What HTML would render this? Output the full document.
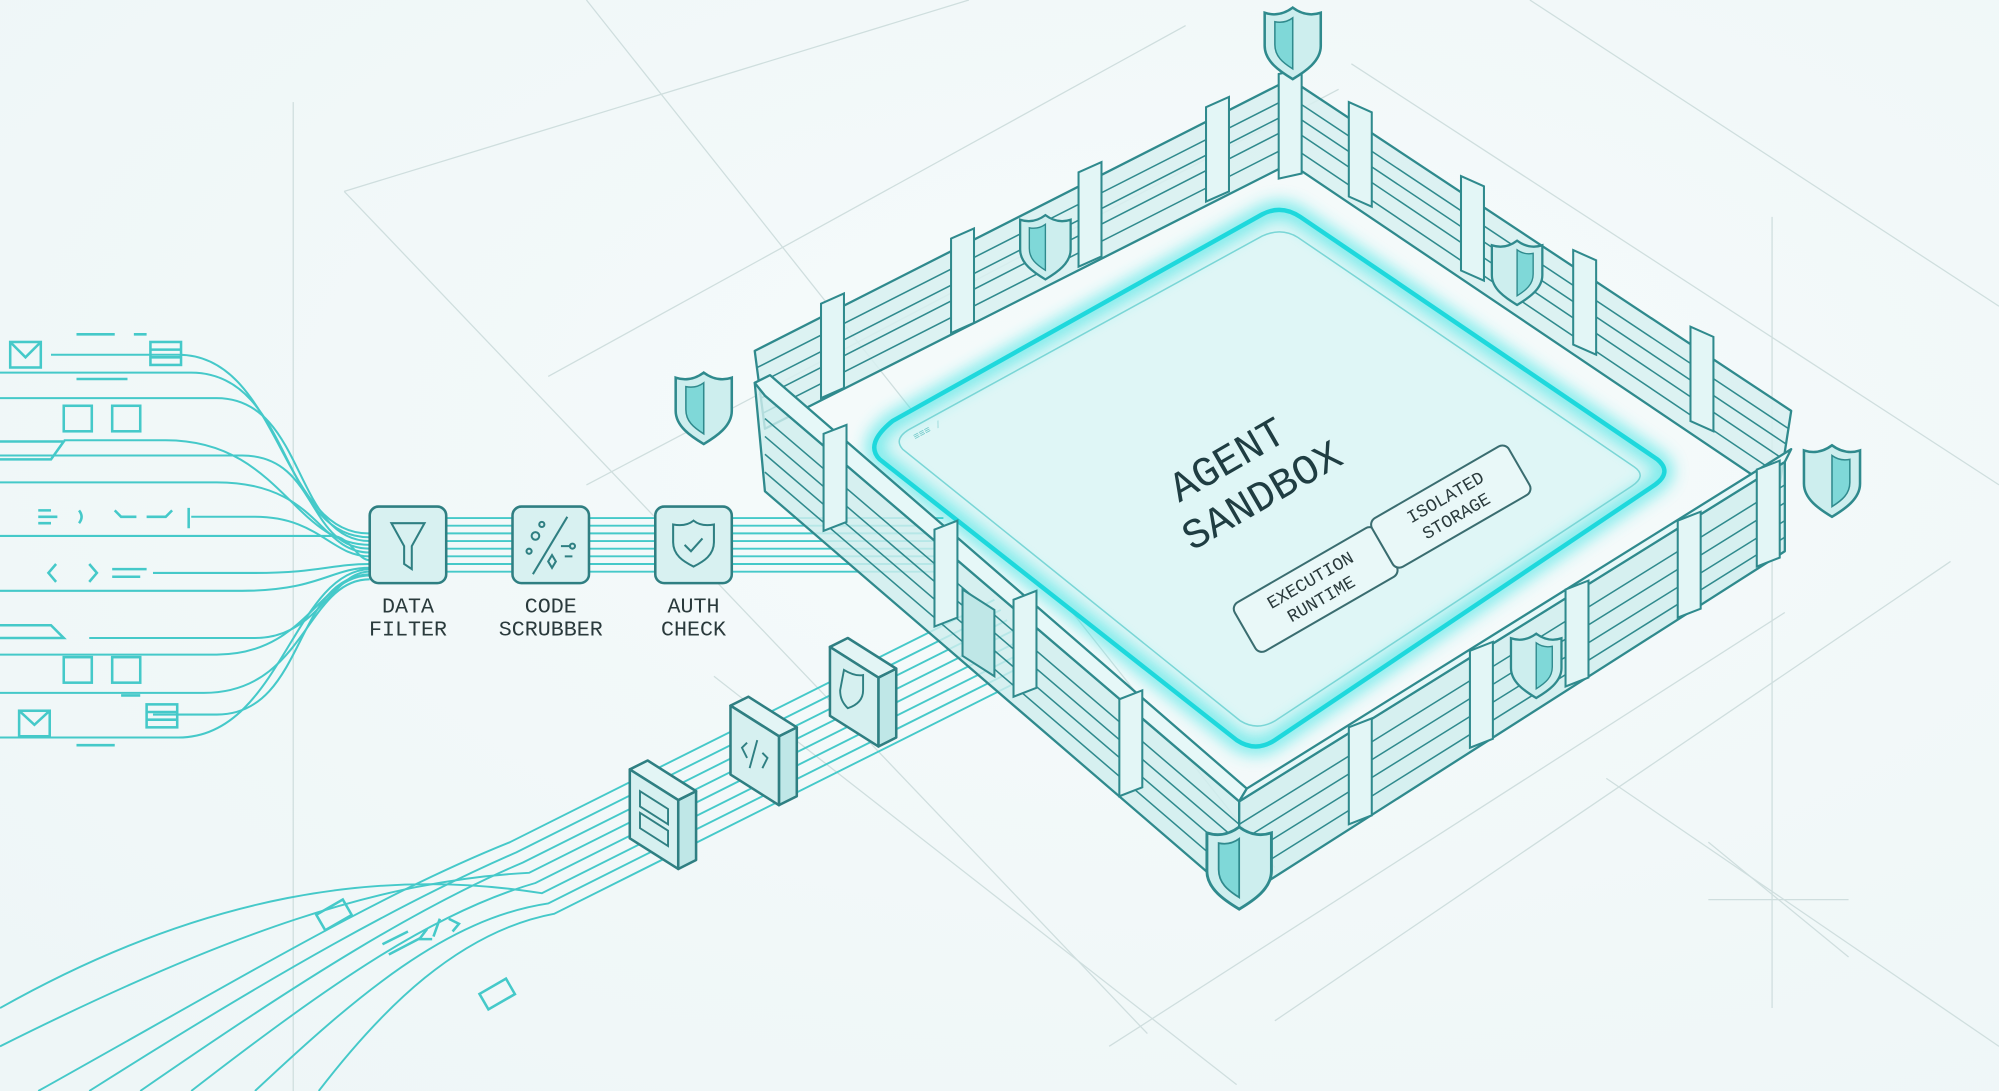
<!DOCTYPE html>
<html><head><meta charset="utf-8"><style>
html,body{margin:0;padding:0;background:#f1f8f8;}
svg{display:block;}
text{font-family:"Liberation Mono","DejaVu Sans Mono",monospace;}
</style></head><body>
<svg width="1999" height="1091" viewBox="0 0 1568 855" preserveAspectRatio="none" xmlns="http://www.w3.org/2000/svg">
<defs>
<radialGradient id="bg" cx="0.6" cy="0.4" r="0.8"><stop offset="0" stop-color="#f6fbfb"/><stop offset="1" stop-color="#eef6f7"/></radialGradient>
<filter id="glow" x="-20%" y="-20%" width="140%" height="140%"><feGaussianBlur stdDeviation="6"/></filter>
<g id="shield"><path d="M0,-26 C8,-20 16,-20 22,-22 L22,4 C22,16 10,24 0,30 C-10,24 -22,16 -22,4 L-22,-22 C-16,-20 -8,-20 0,-26Z" fill="#cdeeee" stroke="#2f8a8d" stroke-width="2"/><path d="M0,-18 L0,22 C-8,17 -14,12 -14,3 L-14,-15 C-9,-14 -4,-15 0,-18Z" fill="#7fd8d8" stroke="#2f8a8d" stroke-width="1.2"/></g>
</defs>
<rect width="1568" height="855" fill="url(#bg)"/>
<g stroke="#cfdede" stroke-width="1" fill="none">
<line x1="230" y1="80" x2="230" y2="855"/>
<line x1="460" y1="0" x2="1000" y2="680"/>
<line x1="270" y1="150" x2="760" y2="0"/>
<line x1="430" y1="295" x2="930" y2="20"/>
<line x1="460" y1="380" x2="1050" y2="70"/>
<line x1="1060" y1="50" x2="1568" y2="380"/>
<line x1="1200" y1="0" x2="1568" y2="240"/>
<line x1="1000" y1="800" x2="1530" y2="440"/>
<line x1="870" y1="820" x2="1400" y2="480"/>
<line x1="1260" y1="610" x2="1568" y2="820"/>
<line x1="1390" y1="170" x2="1390" y2="790"/>
<line x1="1340" y1="705" x2="1450" y2="705"/>
<line x1="1340" y1="660" x2="1450" y2="750"/>
<line x1="270" y1="150" x2="900" y2="810"/>
<line x1="560" y1="530" x2="970" y2="850"/>
</g>
<g stroke="#45c9c9" stroke-width="1.6" fill="none">
<path d="M40,278 H140 C220,278 220,420 290,418"/>
<path d="M0,292 H150 C230,292 220,422 290,421"/>
<path d="M0,312 H170 C240,312 230,424 290,424"/>
<path d="M50,345 H130 C220,345 230,427 290,427"/>
<path d="M0,357 H190 C250,357 240,430 290,430"/>
<path d="M0,378 H170 C250,378 250,433 290,433"/>
<path d="M150,405 H200 C250,405 260,436 290,436"/>
<path d="M0,420 H260 C275,420 280,439 290,439"/>
<path d="M120,449 H200 C250,449 260,442 290,442"/>
<path d="M0,463 H190 C250,463 260,445 290,445"/>
<path d="M70,500 H200 C250,500 260,448 290,448"/>
<path d="M0,513 H170 C240,513 250,451 290,451"/>
<path d="M0,543 H160 C240,543 240,454 290,454"/>
<path d="M120,560 H170 C240,560 230,452 290,450"/>
<path d="M0,578 H140 C220,578 230,448 290,446"/>
</g>
<g stroke="#45c9c9" stroke-width="2" fill="none">
<rect x="8" y="268" width="24" height="20"/><path d="M8,268 L20,280 L32,268"/>
<rect x="118" y="268" width="24" height="18"/><path d="M118,274 H142 M118,280 H142"/>
<rect x="50" y="318" width="22" height="20"/><rect x="88" y="318" width="22" height="20"/>
<path d="M0,360 H40 L50,346 H0"/>
<path d="M30,400 H40 M30,405 H45 M30,410 H40 M62,400 q4,5 0,10 M90,400 l5,5 h12 M115,405 h15 l5,-5 M148,398 v16"/>
<path d="M44,442 l-6,7 l6,7 M70,442 l6,7 l-6,7 M88,446 H115 M88,452 H110"/>
<path d="M0,490 H40 L50,500 H0"/>
<rect x="50" y="515" width="22" height="20"/><rect x="88" y="515" width="22" height="20"/>
<rect x="15" y="557" width="24" height="20"/><path d="M15,557 L27,568 L39,557"/>
<rect x="115" y="552" width="24" height="18"/><path d="M115,558 H139 M115,564 H139"/>
<path d="M60,262 H90 M105,262 H115 M60,297 H100 M60,584 H90 M95,545 H110"/>
</g>
<g stroke="#45c9c9" stroke-width="1.5">
<line x1="290" y1="406" x2="740" y2="406"/><line x1="290" y1="412" x2="740" y2="412"/>
<line x1="290" y1="418" x2="740" y2="418"/><line x1="290" y1="424" x2="740" y2="424"/>
<line x1="290" y1="430" x2="740" y2="430"/><line x1="290" y1="436" x2="740" y2="436"/>
<line x1="290" y1="442" x2="740" y2="442"/><line x1="290" y1="448" x2="740" y2="448"/>
</g>
<g fill="#d8f1f1" stroke="#2f7f82" stroke-width="2">
<rect x="290" y="397" width="60" height="60" rx="7"/>
<rect x="402" y="397" width="60" height="60" rx="7"/>
<rect x="514" y="397" width="60" height="60" rx="7"/>
</g>
<g fill="none" stroke="#2f7f82" stroke-width="1.6">
<path d="M307,410 H333 L323,428 V446 L317,442 V428 Z"/>
<path d="M445,405 L418,450"/><circle cx="420" cy="420" r="3"/><circle cx="425" cy="411" r="2"/><circle cx="415" cy="432" r="2"/><path d="M430,440 l3,-5 l3,5 l-3,5z"/><path d="M440,428 h8 M443,436 h6"/><circle cx="449" cy="428" r="2"/>
<path d="M544,408 c5,4 11,4 16,3 v14 c0,10 -8,15 -16,19 c-8,-4 -16,-9 -16,-19 v-14 c5,1 11,1 16,-3z"/><path d="M537,427 l5,5 l9,-10"/>
</g>
<g font-size="17" fill="#2a3a3c" text-anchor="middle">
<text x="320" y="480">DATA</text><text x="320" y="498">FILTER</text>
<text x="432" y="480">CODE</text><text x="432" y="498">SCRUBBER</text>
<text x="544" y="480">AUTH</text><text x="544" y="498">CHECK</text>
</g>
<g stroke="#45c9c9" stroke-width="1.5" fill="none">
<path d="M30,855 C200,760 300,700 400,660 L780,470"/>
<path d="M70,855 C220,760 320,705 405,668 L785,478"/>
<path d="M110,855 C240,765 330,710 410,676 L790,486"/>
<path d="M0,820 C180,730 300,690 415,684 L795,494"/>
<path d="M150,855 C260,770 340,715 420,692 L800,502"/>
<path d="M0,790 C160,700 300,680 425,700 L805,510"/>
<path d="M200,855 C280,780 350,720 430,708 L810,518"/>
<path d="M250,855 C300,790 360,730 435,716 L815,526"/>
</g>
<g stroke="#45c9c9" stroke-width="2" fill="none">
<rect x="250" y="710" width="24" height="14" transform="rotate(-30 262 717)"/>
<rect x="378" y="772" width="24" height="14" transform="rotate(-30 390 779)"/>
<path d="M300,740 l20,-10 M305,748 l25,-13 M335,728 l-6,8 l10,0 M345,720 l-5,14 M352,720 l8,4 l-5,6"/>
</g>
<g stroke="#2f7f82" stroke-width="2" stroke-linejoin="round">
<g><path d="M532,627 L546,620 L546,674 L532,681Z" fill="#bfe7e7"/><path d="M494,603 L508,596 L546,620 L532,627Z" fill="#e3f5f5"/><path d="M494,603 L532,627 L532,681 L494,657Z" fill="#d6f0f0"/></g>
<g><path d="M611,577 L625,570 L625,624 L611,631Z" fill="#bfe7e7"/><path d="M573,553 L587,546 L625,570 L611,577Z" fill="#e3f5f5"/><path d="M573,553 L611,577 L611,631 L573,607Z" fill="#d6f0f0"/></g>
<g><path d="M689,531 L703,524 L703,578 L689,585Z" fill="#bfe7e7"/><path d="M651,507 L665,500 L703,524 L689,531Z" fill="#e3f5f5"/><path d="M651,507 L689,531 L689,585 L651,561Z" fill="#d6f0f0"/></g>
</g>
<g fill="none" stroke="#2f7f82" stroke-width="1.5">
<path d="M502,620 L524,634 L524,646 L502,632Z M502,637 L524,651 L524,663 L502,649Z"/>
<path d="M586,582 l-4,4 l4,8 M598,590 l4,4 l-4,8 M594,580 l-6,22"/>
<path d="M662,525 c5,3 10,5 15,4 v12 c0,8 -6,12 -12,14 c-4,-4 -6,-8 -6,-14z"/>
</g>
<!-- FENCE back walls -->
<g stroke="#2f8a8d" stroke-width="1.8" stroke-linejoin="round">
<path d="M592,275 L1012,62 L1012,128 L600,336Z" fill="#d7f0f0" fill-opacity="0.85"/>
<path d="M1012,62 L1405,322 L1395,386 L1012,128Z" fill="#d7f0f0" fill-opacity="0.85"/>
</g>
<g stroke="#2f8a8d" stroke-width="1.2" fill="none">
<path d="M594,288 L1012,76 M596,300 L1012,88 M597,312 L1012,100 M598,324 L1012,114"/>
<path d="M1012,76 L1403,336 M1012,88 L1401,348 M1012,100 L1399,360 M1012,114 L1397,373"/>
</g>
<g fill="#e3f6f6" stroke="#2f8a8d" stroke-width="1.6">
<path d="M644,238 l18,-8 v74 l-18,8z"/><path d="M746,187 l18,-8 v74 l-18,8z"/><path d="M846,135 l18,-8 v74 l-18,8z"/><path d="M946,84 l18,-8 v74 l-18,8z"/>
<path d="M1058,80 l18,8 v74 l-18,-8z"/><path d="M1146,138 l18,8 v74 l-18,-8z"/><path d="M1234,196 l18,8 v74 l-18,-8z"/><path d="M1326,256 l18,8 v74 l-18,-8z"/>
<path d="M1003,58 l18,-4 v82 l-18,4z"/>
</g>
<path d="M700,330 L990,168 Q1005,160 1020,170 L1300,360 Q1312,370 1298,380 L1000,580 Q985,590 970,580 L690,360 Q678,348 700,330Z" fill="#dff6f6"/>
<path d="M700,330 L990,168 Q1005,160 1020,170 L1300,360 Q1312,370 1298,380 L1000,580 Q985,590 970,580 L690,360 Q678,348 700,330Z" fill="none" stroke="#35e3e3" stroke-width="14" opacity="0.6" filter="url(#glow)"/>
<path d="M700,330 L990,168 Q1005,160 1020,170 L1300,360 Q1312,370 1298,380 L1000,580 Q985,590 970,580 L690,360 Q678,348 700,330Z" fill="none" stroke="#1ed8dc" stroke-width="3.5"/>
<path d="M716,335 L990,185 Q1005,178 1018,186 L1282,366 Q1292,373 1280,381 L1000,565 Q986,573 973,565 L708,352 Q700,343 716,335Z" fill="none" stroke="#7ad6d6" stroke-width="1.2"/>
<text x="718" y="345" font-size="8" fill="#6fc8c8" transform="rotate(-28 718 345)">≡≡≡ ⁄</text>
<g fill="#1f3d42" font-size="33">
<text x="925" y="394" transform="rotate(-30 925 394)" font-family="Liberation Sans, sans-serif">AGENT</text>
<text x="935" y="432" transform="rotate(-30 935 432)" font-family="Liberation Sans, sans-serif">SANDBOX</text>
</g>
<g transform="rotate(-30 1032 462)">
<rect x="968" y="440" width="128" height="44" rx="6" fill="#e9f8f8" stroke="#3a6d70" stroke-width="1.6"/>
<text x="1032" y="458" font-size="14" fill="#2a3a3c" text-anchor="middle">EXECUTION</text>
<text x="1032" y="475" font-size="14" fill="#2a3a3c" text-anchor="middle">RUNTIME</text>
</g>
<g transform="rotate(-30 1138 397)">
<rect x="1076" y="375" width="124" height="44" rx="6" fill="#e9f8f8" stroke="#3a6d70" stroke-width="1.6"/>
<text x="1138" y="393" font-size="14" fill="#2a3a3c" text-anchor="middle">ISOLATED</text>
<text x="1138" y="410" font-size="14" fill="#2a3a3c" text-anchor="middle">STORAGE</text>
</g>
<!-- FENCE front walls -->
<g stroke="#2f8a8d" stroke-width="1.8" stroke-linejoin="round">
<path d="M592,300 L600,310 L972,628 L972,705 L600,385 Z" fill="#cfeeee" fill-opacity="0.82"/>
<path d="M972,628 L1400,362 L1400,432 L972,705Z" fill="#cfeeee" fill-opacity="0.82"/>
<path d="M592,300 L604,294 L978,618 L972,628 L600,310Z" fill="#e6f8f8"/>
<path d="M972,628 L978,618 L1405,352 L1400,362Z" fill="#e6f8f8"/>
</g>
<g stroke="#2f8a8d" stroke-width="1.2" fill="none">
<path d="M600,328 L972,646 M600,342 L972,660 M600,356 L972,674 M600,370 L972,689"/>
<path d="M972,646 L1400,380 M972,660 L1400,394 M972,674 L1400,408 M972,689 L1400,421"/>
</g>
<g fill="#e3f6f6" stroke="#2f8a8d" stroke-width="1.6">
<path d="M646,340 l18,-7 v76 l-18,7z"/><path d="M733,415 l18,-7 v76 l-18,7z"/><path d="M795,470 l18,-7 v76 l-18,7z"/><path d="M878,548 l18,-7 v76 l-18,7z"/>
<path d="M1058,570 l18,-7 v76 l-18,7z"/><path d="M1153,510 l18,-7 v76 l-18,7z"/><path d="M1228,462 l18,-7 v76 l-18,7z"/><path d="M1316,408 l18,-7 v76 l-18,7z"/><path d="M1378,368 l18,-7 v76 l-18,7z"/>
</g>
<path d="M755,462 L780,478 L780,530 L755,514Z" fill="#bfe7e7" stroke="#2f8a8d" stroke-width="1.6"/>
<use href="#shield" transform="translate(552,318) scale(1)"/>
<use href="#shield" transform="translate(1437,375) scale(-1,1)"/>
<use href="#shield" transform="translate(972,678) scale(1.15)"/>
<use href="#shield" transform="translate(1014,32) scale(1)"/>
<use href="#shield" transform="translate(820,192) scale(0.9)"/>
<use href="#shield" transform="translate(1190,212) scale(-0.9,0.9)"/>
<use href="#shield" transform="translate(1205,520) scale(-0.9,0.9)"/>
</svg>
</body></html>
